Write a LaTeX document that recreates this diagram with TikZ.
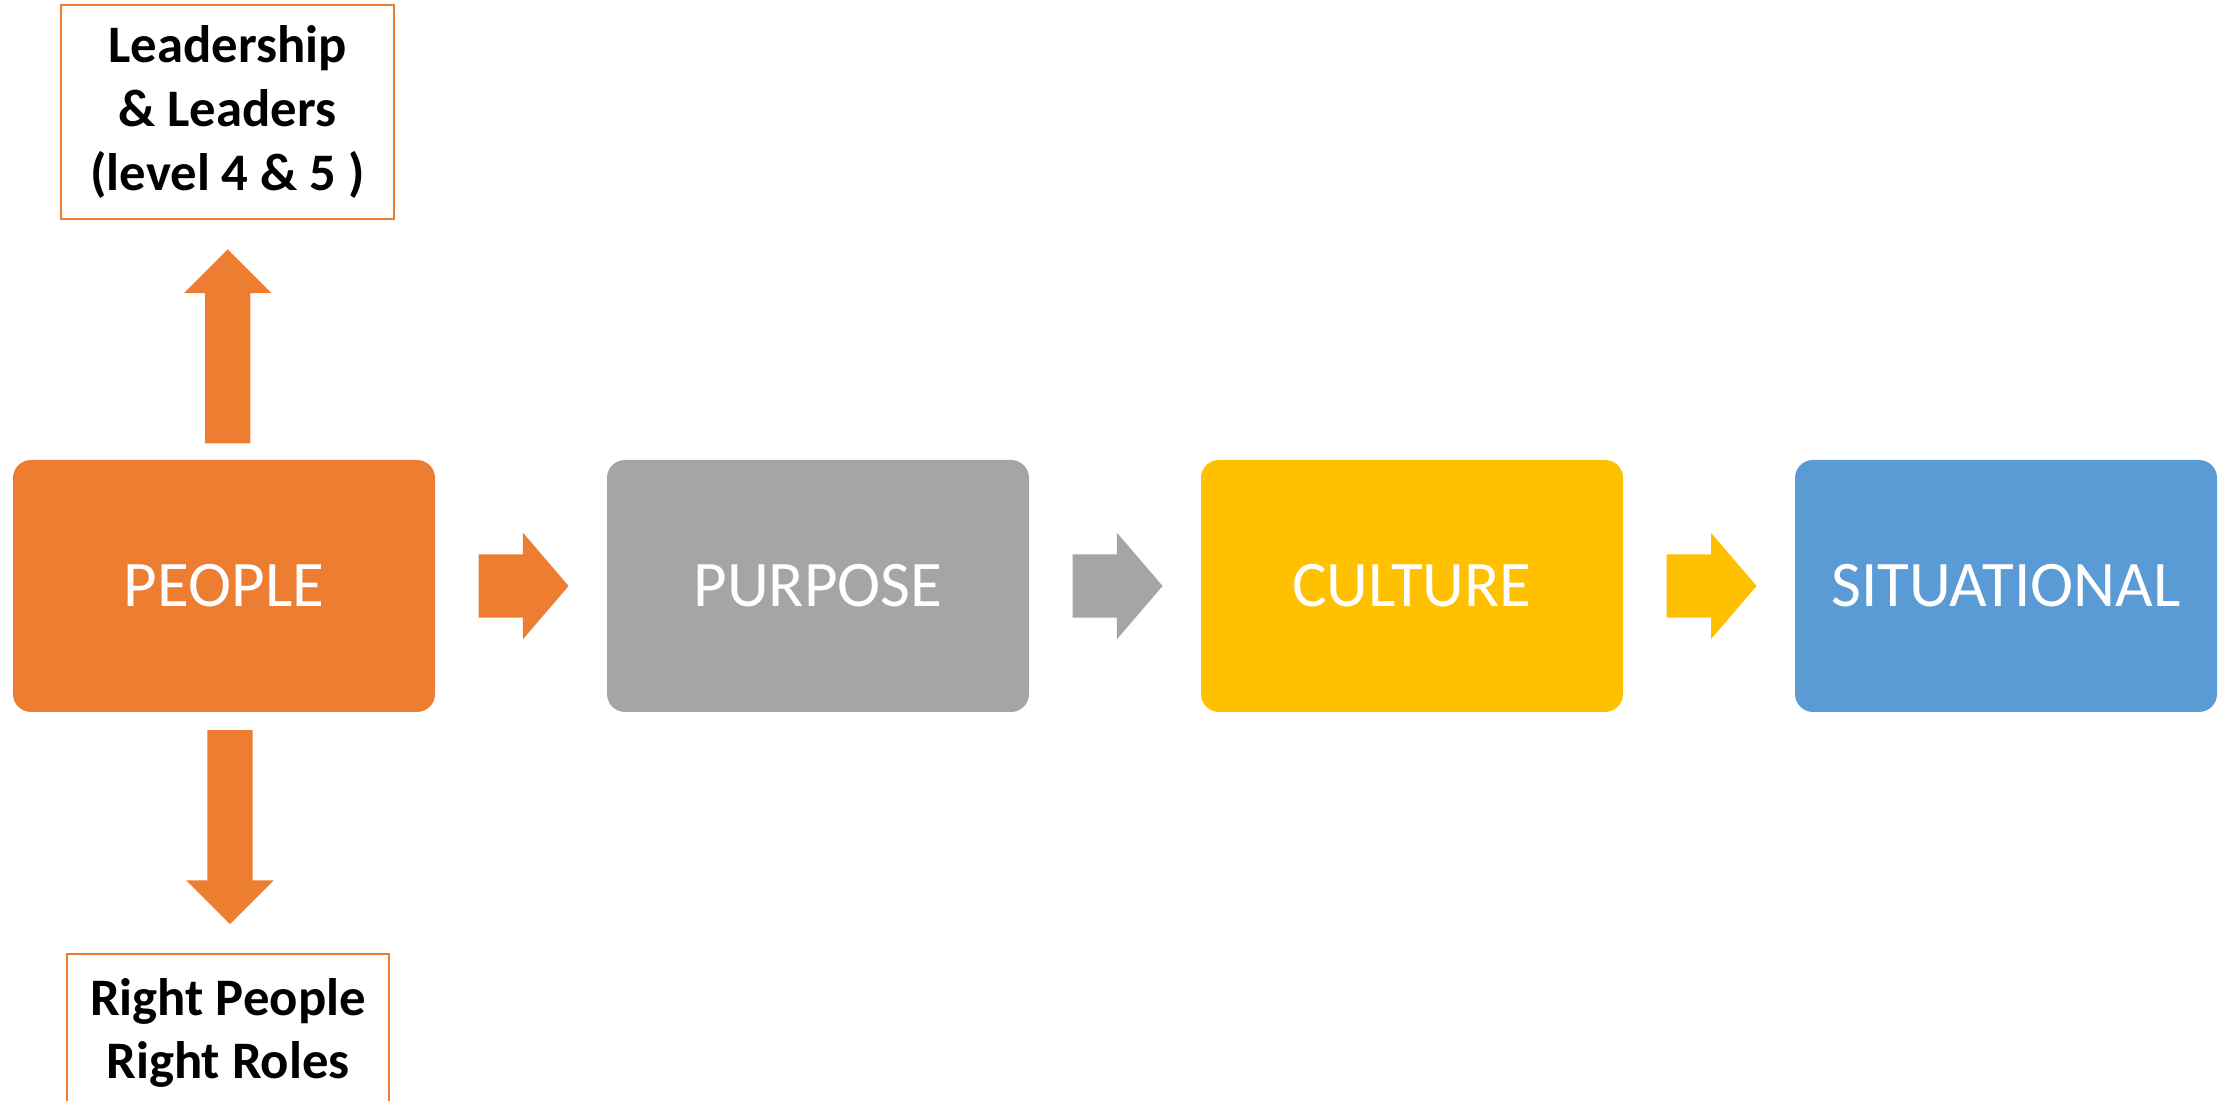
\documentclass[tikz,border=0pt]{standalone}
\usepackage{fontspec}
\setmainfont{Carlito}
\usepackage{tikz}
\usetikzlibrary{positioning,shapes.arrows,calc}
\definecolor{orng}{HTML}{ED7D31}
\definecolor{gry}{HTML}{A5A5A5}
\definecolor{yllw}{HTML}{FFC000}
\definecolor{blu}{HTML}{5B9BD5}
\tikzset{
    block/.style = {
        shape=rectangle,
        rounded corners=0.18cm,
        minimum height=2.52cm,
        minimum width=4.22cm,
        text=white,
        font=\fontsize{18.5}{22}\selectfont
    },
    note/.style = {
        draw=orng,
        shape=rectangle,
        line width=0.6pt,
        align=center,
        font=\fontsize{15}{18.2}\selectfont\bfseries
    },
    harrow/.style = {
        shape=single arrow,
        inner xsep=0pt,
        inner ysep=0.31cm,
        single arrow head extend=0.215cm,
        single arrow tip angle=98.8,
        minimum height=0.9cm
    },
    varrow/.style = {
        shape=single arrow,
        inner sep=0.22cm,
        single arrow head extend=0.21cm,
        single arrow tip angle=90,
        minimum height=1.94cm
    },
}
\begin{document}
\begin{tikzpicture}
    \clip (0,0) rectangle (22.34,11.01);
    \node[block, fill=orng] (people) at (2.24,5.15) {PEOPLE};
    \node[block, fill=gry] (purpose) at (8.18,5.15) {PURPOSE};
    \node[block, fill=yllw] (culture) at (14.12,5.15) {CULTURE};
    \node[block, fill=blu] (situ) at (20.06,5.15) {SITUATIONAL};

    \node[note, minimum width=3.33cm, minimum height=2.14cm] (lead) at (2.275,9.89)
        {Leadership\\\& Leaders\\(level 4 \& 5 )};
    \node[note, minimum width=3.22cm, minimum height=1.58cm] (right) at (2.28,0.68)
        {Right People\\Right Roles};

    \node[harrow, fill=orng] (a1) at ($(people.east)!0.5!(purpose.west)+(-0.11,0)$) {};
    \node[harrow, fill=gry] (a2) at ($(purpose.east)!0.5!(culture.west)+(-0.11,0)$) {};
    \node[harrow, fill=yllw] (a3) at ($(culture.east)!0.5!(situ.west)+(-0.11,0)$) {};

    \node[varrow, fill=orng, shape border rotate=90] (up) at
        ($(people.north)!0.5!(lead.south)+(0.02,-0.18)$) {};
    \node[varrow, fill=orng, shape border rotate=270] (down) at
        ($(people.south)!0.5!(right.north)+(0.04,0.17)$) {};
\end{tikzpicture}
\end{document}
